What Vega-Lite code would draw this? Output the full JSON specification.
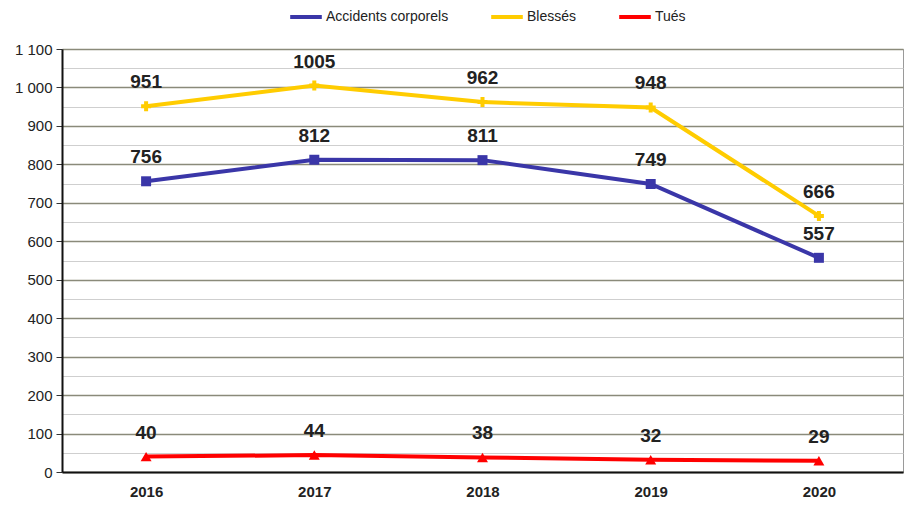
{
  "$schema": "https://vega.github.io/schema/vega-lite/v6.json",
  "width": 841,
  "height": 423,
  "autosize": {"type": "none"},
  "padding": {"left": 62, "top": 49, "right": 3, "bottom": 34},
  "background": "white",
  "config": {
    "view": {"stroke": "#9a9a9a", "strokeWidth": 1},
    "font": "Liberation Sans Narrow, Liberation Sans, sans-serif"
  },
  "data": {
    "values": [
      {"year": "2016", "series": "Accidents corporels", "value": 756},
      {"year": "2017", "series": "Accidents corporels", "value": 812},
      {"year": "2018", "series": "Accidents corporels", "value": 811},
      {"year": "2019", "series": "Accidents corporels", "value": 749},
      {"year": "2020", "series": "Accidents corporels", "value": 557},
      {"year": "2016", "series": "Blessés", "value": 951},
      {"year": "2017", "series": "Blessés", "value": 1005},
      {"year": "2018", "series": "Blessés", "value": 962},
      {"year": "2019", "series": "Blessés", "value": 948},
      {"year": "2020", "series": "Blessés", "value": 666},
      {"year": "2016", "series": "Tués", "value": 40},
      {"year": "2017", "series": "Tués", "value": 44},
      {"year": "2018", "series": "Tués", "value": 38},
      {"year": "2019", "series": "Tués", "value": 32},
      {"year": "2020", "series": "Tués", "value": 29}
    ]
  },
  "encoding": {
    "x": {
      "field": "year",
      "type": "ordinal",
      "scale": {"type": "point", "padding": 0.5},
      "axis": {
        "title": null,
        "labelAngle": 0,
        "labelFontSize": 15,
        "labelFontWeight": "bold",
        "labelColor": "#222",
        "labelPadding": 12,
        "ticks": false,
        "domainColor": "#111",
        "domainWidth": 2,
        "grid": false
      }
    },
    "y": {
      "field": "value",
      "type": "quantitative",
      "scale": {"domain": [0, 1100], "nice": false},
      "axis": {
        "title": null,
        "values": [0, 50, 100, 150, 200, 250, 300, 350, 400, 450, 500, 550, 600, 650, 700, 750, 800, 850, 900, 950, 1000, 1050, 1100],
        "labelExpr": "datum.value % 100 === 0 ? replace(format(datum.value, ','), ',', ' ') : ''",
        "labelFontSize": 15,
        "labelColor": "#222",
        "labelPadding": 4,
        "tickSize": 6,
        "tickColor": "#333",
        "tickOpacity": {"condition": {"test": "datum.value % 100 === 0", "value": 1}, "value": 0},
        "domainColor": "#111",
        "domainWidth": 2,
        "grid": true,
        "gridColor": {"condition": {"test": "datum.value % 100 === 0", "value": "#8a8a7a"}, "value": "#cfcfcf"},
        "gridWidth": {"condition": {"test": "datum.value % 100 === 0", "value": 1.5}, "value": 1}
      }
    },
    "color": {
      "field": "series",
      "type": "nominal",
      "scale": {
        "domain": ["Accidents corporels", "Blessés", "Tués"],
        "range": ["#3a36a8", "#ffcc00", "#ff0000"]
      },
      "legend": {
        "title": null,
        "orient": "none",
        "legendX": 226,
        "legendY": -50,
        "direction": "horizontal",
        "symbolType": "stroke",
        "symbolSize": 1000,
        "symbolStrokeWidth": 4,
        "labelFont": "Liberation Sans, sans-serif",
        "labelFontSize": 14,
        "labelColor": "#222",
        "labelOffset": 2,
        "columnPadding": 34
      }
    }
  },
  "layer": [
    {
      "mark": {"type": "line", "strokeWidth": 4},
      "encoding": {"detail": {"field": "series"}}
    },
    {
      "transform": [{"filter": "datum.series === 'Accidents corporels'"}],
      "mark": {"type": "point", "filled": true, "opacity": 1, "shape": "square", "size": 100}
    },
    {
      "transform": [{"filter": "datum.series === 'Blessés'"}],
      "mark": {"type": "point", "filled": true, "opacity": 1, "shape": "cross", "size": 100}
    },
    {
      "transform": [{"filter": "datum.series === 'Tués'"}],
      "mark": {"type": "point", "filled": true, "opacity": 1, "shape": "triangle-up", "size": 120}
    },
    {
      "mark": {
        "type": "text",
        "dy": -24,
        "fontSize": 19,
        "fontWeight": "bold",
        "color": "#222"
      },
      "encoding": {
        "text": {"field": "value", "type": "quantitative"},
        "color": {"value": "#222"}
      }
    }
  ]
}
